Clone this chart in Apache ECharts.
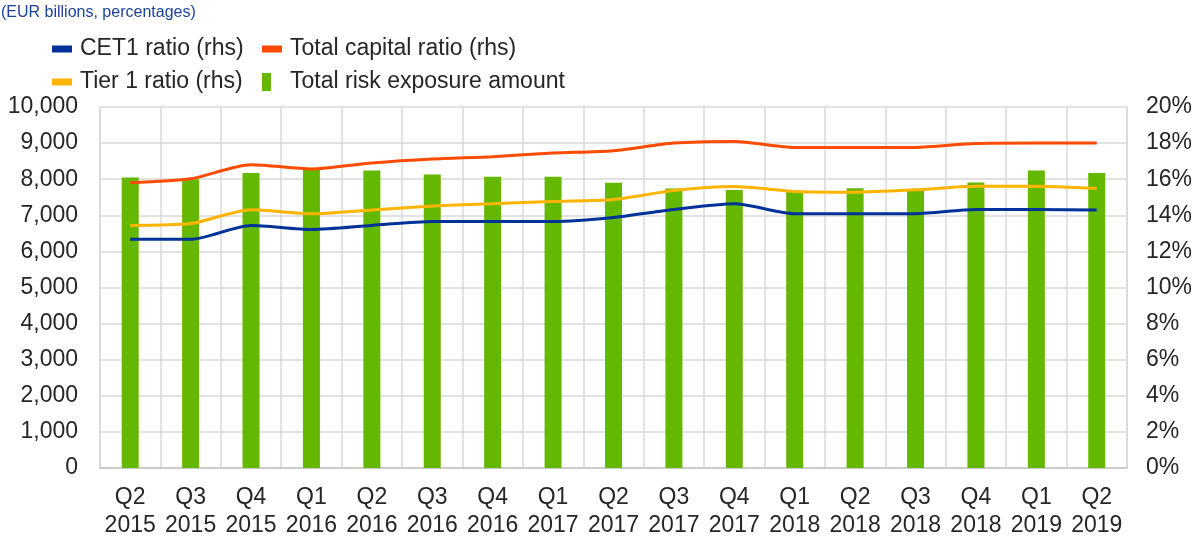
<!DOCTYPE html>
<html>
<head>
<meta charset="utf-8">
<script src="https://cdn.jsdelivr.net/npm/echarts@6/dist/echarts.min.js"></script>
<style>
html,body{margin:0;padding:0;background:#fff;}
#chart{width:1195px;height:540px;}
</style>
</head>
<body>
<div id="chart"></div>
<script>
var categories = ['Q2\n2015','Q3\n2015','Q4\n2015','Q1\n2016','Q2\n2016','Q3\n2016','Q4\n2016','Q1\n2017','Q2\n2017','Q3\n2017','Q4\n2017','Q1\n2018','Q2\n2018','Q3\n2018','Q4\n2018','Q1\n2019','Q2\n2019'];
var trea = [8050,8000,8170,8290,8240,8130,8070,8070,7900,7740,7700,7680,7750,7700,7910,8240,8170];
var cet1 = [12.67,12.67,13.44,13.22,13.44,13.66,13.66,13.66,13.88,14.32,14.64,14.09,14.09,14.09,14.32,14.32,14.30];
var totalCapital = [15.80,16.02,16.80,16.57,16.90,17.12,17.25,17.45,17.58,18.00,18.09,17.76,17.76,17.76,17.98,18.00,18.00];
var tier1 = [13.44,13.54,14.31,14.09,14.30,14.51,14.64,14.77,14.88,15.37,15.59,15.32,15.28,15.41,15.61,15.61,15.48];
var leftTicks = {min:0, max:10000, interval:1000};
var rightTicks = {min:0, max:20, interval:2};

var names = ['CET1 ratio (rhs)','Total capital ratio (rhs)','Tier 1 ratio (rhs)','Total risk exposure amount'];
var colors = {cet1:'#003299', total:'#ff4b00', tier1:'#ffb400', trea:'#65b800'};
var font = 'Liberation Sans, Arial, sans-serif';
var txt = {fontFamily:font, fontSize:23, color:'#262626', lineHeight:26};

function lg(name, left, top, w, h, pad){
  return {show:true, data:[name], left:left, top:top, padding:0, icon:'rect',
    itemWidth:w, itemHeight:h, selectedMode:true,
    textStyle:Object.assign({}, txt, {padding:[0,0,0,pad]})};
}

var chart = echarts.init(document.getElementById('chart'));
chart.setOption({
  animation:false,
  backgroundColor:'#fff',
  title:{text:'(EUR billions, percentages)', left:1, top:5, padding:0,
    textStyle:{fontFamily:font, fontSize:16, fontWeight:'normal', color:'#1d4299'}},
  legend:[
    lg(names[0], 52, 36, 20, 7, 3),
    lg(names[1], 262, 36, 20, 7, 3),
    lg(names[2], 52, 69, 20, 7, 3),
    lg(names[3], 262, 69, 9, 18, 14)
  ],
  grid:{left:100, right:67, top:107, bottom:71, containLabel:false},
  xAxis:{type:'category', data:categories, boundaryGap:true,
    axisLine:{show:true, lineStyle:{color:'#c4c4c4', width:1.5}},
    axisTick:{show:false},
    splitLine:{show:true, interval:0, lineStyle:{color:'#d9d9d9', width:1.5}},
    axisLabel:{interval:0, margin:16, fontFamily:font, fontSize:23, color:'#262626', lineHeight:28}},
  yAxis:[
    {type:'value', min:leftTicks.min, max:leftTicks.max, interval:leftTicks.interval, position:'left',
      axisLine:{show:true, lineStyle:{color:'#d9d9d9', width:1.5}}, axisTick:{show:false},
      splitLine:{show:true, lineStyle:{color:'#d9d9d9', width:1.5}},
      axisLabel:{margin:22, fontFamily:font, fontSize:23, color:'#262626',
        formatter:function(v){return v.toLocaleString('en-US');}}},
    {type:'value', min:rightTicks.min, max:rightTicks.max, interval:rightTicks.interval, position:'right',
      axisLine:{show:true, lineStyle:{color:'#d9d9d9', width:1.5}}, axisTick:{show:false},
      splitLine:{show:false},
      axisLabel:{margin:19, fontFamily:font, fontSize:23, color:'#262626', formatter:'{value}%'}}
  ],
  series:[
    {name:names[3], type:'bar', yAxisIndex:0, data:trea, barWidth:17, itemStyle:{color:colors.trea}, z:2},
    {name:names[0], type:'line', yAxisIndex:1, data:cet1, showSymbol:false, smooth:0.25,
      lineStyle:{color:colors.cet1, width:3}, itemStyle:{color:colors.cet1}, z:5},
    {name:names[1], type:'line', yAxisIndex:1, data:totalCapital, showSymbol:false, smooth:0.25,
      lineStyle:{color:colors.total, width:3}, itemStyle:{color:colors.total}, z:5},
    {name:names[2], type:'line', yAxisIndex:1, data:tier1, showSymbol:false, smooth:0.25,
      lineStyle:{color:colors.tier1, width:3}, itemStyle:{color:colors.tier1}, z:5}
  ]
});
</script>
</body>
</html>
